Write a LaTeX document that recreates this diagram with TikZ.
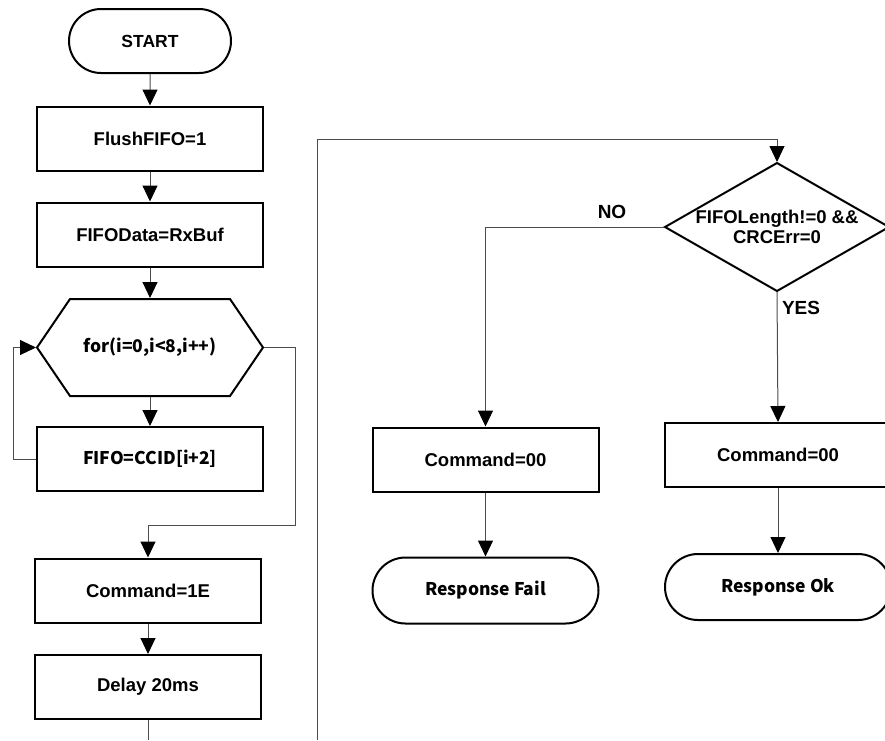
\documentclass[tikz,border=0pt]{standalone}
\usepackage{fontspec}
\setmainfont{Liberation Sans}
\newfontfamily\kr{Noto Sans CJK KR}
\usetikzlibrary{shapes.misc,arrows.meta}

\tikzset{
  base/.style={line width=2pt, inner sep=0pt, font=\bfseries\fontsize{18.5}{22}\selectfont},
  box/.style={base, draw, rectangle, minimum width=226pt, minimum height=64pt},
  term/.style={base, draw, rounded rectangle, minimum width=226pt, minimum height=66pt},
  ghost/.style={base, minimum width=226pt, minimum height=64pt},
  krtext/.style={font=\kr\bfseries\fontsize{17.5}{21}\selectfont},
  conn/.style={line width=1pt, draw=black!70},
  arr/.style={conn, -{Triangle[length=16pt,width=15pt,black]}},
  lbl/.style={font=\bfseries\fontsize{19}{22}\selectfont, inner sep=0pt}
}

\begin{document}
\begin{tikzpicture}[x=1pt,y=-1pt]
\useasboundingbox (0,0) rectangle (885,740);
\clip (0,0) rectangle (885,740);

% left column
\node[term, minimum width=162pt, minimum height=64pt, font=\bfseries\fontsize{17.5}{21}\selectfont] (start) at (150,41) {START};
\node[box] (flush) at (150,138.5) {FlushFIFO=1};
\node[box] (data) at (150,234.5) {FIFOData=RxBuf};
\draw[line width=2pt, line join=miter] (37,347.5) -- (70,299) -- (230,299) -- (263,347.5) -- (230,396) -- (70,396) -- cycle;
\node[ghost, minimum height=97pt, krtext] (hex) at (150,347.5) {for(i=0,i<8,i++)};
\node[box, krtext] (ccid) at (150,459) {FIFO=CCID[i+2]};
\node[box] (cmd1e) at (148,590.5) {Command=1E};
\node[box] (delay) at (148,687) {Delay 20ms};

% right part
\draw[line width=2pt] (777,163) -- (889,227) -- (777,291) -- (665,227) -- cycle;
\node[ghost, minimum width=224pt, minimum height=128pt, align=center,
      font=\bfseries\fontsize{18.5}{20}\selectfont] (dia) at (777,227) {FIFOLength!=0 \&\&\\CRCErr=0};
\node[box] (fail1) at (485.5,459.5) {Command=00};
\node[term, krtext] (failr) at (485.5,590.5) {Response Fail};
\node[box] (ok1) at (778,455) {Command=00};
\node[term, krtext] (okr) at (778,587) {Response Ok};

\node[lbl] (no) at (612,212) {NO};
\node[lbl] (yes) at (801,308) {YES};

% connector end points
\coordinate (loopx) at (13,459);
\coordinate (exitc) at (295,525);
\coordinate (leftbot) at (148,740);
\coordinate (bigbot) at (317,740);
\coordinate (bigtop) at (317,139);

% connectors
\draw[arr] (start) -- (flush);
\draw[arr] (flush) -- (data);
\draw[arr] (data) -- (hex);
\draw[arr] (hex) -- (ccid);
\draw[arr] (ccid.west) -- (loopx) |- (hex.west);
\draw[arr] (hex.east) -| (exitc) -| (cmd1e.north);
\draw[arr] (cmd1e) -- (delay);
\draw[conn] (delay.south) -- (leftbot);
\draw[arr] (bigbot) -- (bigtop) -| (dia.north);
\draw[arr] (dia.west) -| (fail1.north);
\draw[arr] (fail1) -- (failr);
\draw[arr] (dia.south) -- (ok1.north);
\draw[arr] (ok1) -- (okr);
\end{tikzpicture}
\end{document}
